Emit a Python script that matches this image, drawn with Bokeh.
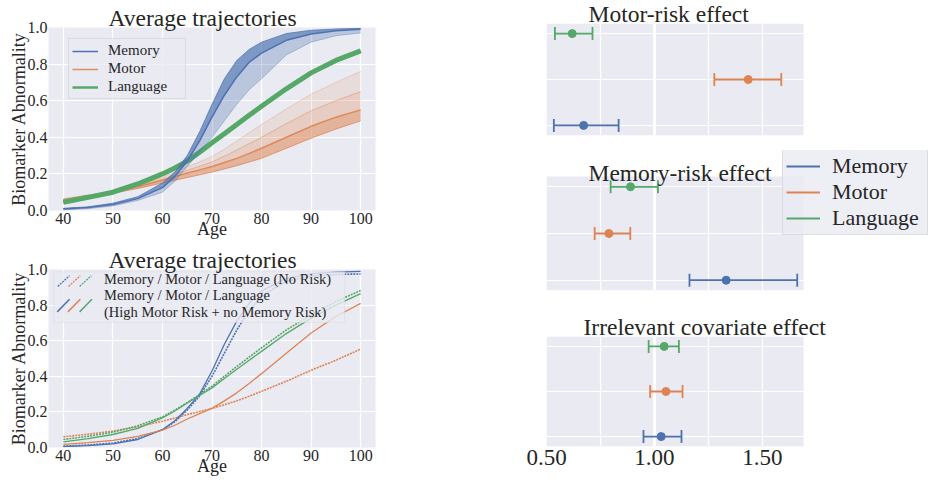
from bokeh.plotting import figure
from bokeh.models import (Legend, LegendItem, FixedTicker, PrintfTickFormatter, Span,
                          BoxAnnotation, Label, Range1d)
from bokeh.layouts import row, column
from bokeh.embed import file_html
from bokeh.resources import INLINE

# ---------------- data ----------------
AGES = [40, 45, 50, 55, 60, 62.5, 65, 67.5, 70, 72.5, 75, 77.5, 80, 85, 90, 95, 100]

# top-left: families of trajectories (upper envelope / dense middle / lower envelope)
MEM_UP = [0.012, 0.02, 0.04, 0.075, 0.15, 0.21, 0.30, 0.43, 0.58, 0.72, 0.82, 0.88, 0.92, 0.967, 0.985, 0.992, 0.996]
MEM_MID = [0.008, 0.016, 0.033, 0.065, 0.125, 0.185, 0.27, 0.38, 0.51, 0.63, 0.73, 0.81, 0.86, 0.93, 0.965, 0.982, 0.99]
MEM_LOW = [0.003, 0.01, 0.025, 0.055, 0.10, 0.16, 0.24, 0.32, 0.40, 0.49, 0.58, 0.66, 0.72, 0.85, 0.92, 0.955, 0.97]

MOT_UP = [0.065, 0.085, 0.105, 0.14, 0.18, 0.21, 0.24, 0.265, 0.295, 0.335, 0.38, 0.425, 0.47, 0.555, 0.635, 0.70, 0.76]
MOT_UPMID = [0.062, 0.083, 0.103, 0.135, 0.172, 0.195, 0.22, 0.242, 0.265, 0.297, 0.33, 0.365, 0.40, 0.475, 0.545, 0.60, 0.65]
MOT_MID = [0.058, 0.08, 0.10, 0.13, 0.165, 0.185, 0.205, 0.222, 0.24, 0.262, 0.285, 0.312, 0.34, 0.40, 0.46, 0.51, 0.55]
MOT_LOW = [0.05, 0.072, 0.094, 0.12, 0.15, 0.165, 0.18, 0.195, 0.21, 0.227, 0.245, 0.265, 0.285, 0.34, 0.395, 0.445, 0.49]

LANG = [0.045, 0.072, 0.10, 0.145, 0.20, 0.232, 0.27, 0.318, 0.37, 0.42, 0.47, 0.52, 0.57, 0.665, 0.752, 0.82, 0.872]

# bottom-left: no-risk (dotted) vs high motor risk + no memory risk (solid)
MEM_NORISK = [0.008, 0.014, 0.025, 0.05, 0.10, 0.145, 0.21, 0.29, 0.40, 0.53, 0.66, 0.77, 0.85, 0.935, 0.962, 0.972, 0.975]
MOT_NORISK = [0.06, 0.075, 0.092, 0.116, 0.148, 0.165, 0.185, 0.202, 0.22, 0.24, 0.262, 0.288, 0.316, 0.372, 0.434, 0.49, 0.553]
LANG_NORISK = [0.045, 0.063, 0.086, 0.122, 0.172, 0.21, 0.252, 0.298, 0.345, 0.40, 0.455, 0.508, 0.56, 0.66, 0.745, 0.82, 0.882]
MEM_RISK = [0.005, 0.01, 0.02, 0.045, 0.10, 0.15, 0.22, 0.30, 0.43, 0.58, 0.71, 0.81, 0.88, 0.95, 0.975, 0.985, 0.99]
MOT_RISK = [0.018, 0.027, 0.04, 0.062, 0.098, 0.125, 0.16, 0.19, 0.22, 0.262, 0.307, 0.36, 0.415, 0.53, 0.643, 0.736, 0.81]
LANG_RISK = [0.032, 0.05, 0.073, 0.107, 0.166, 0.205, 0.25, 0.292, 0.335, 0.388, 0.44, 0.49, 0.54, 0.64, 0.727, 0.80, 0.864]

# right: effects (rows bottom -> top: Memory, Motor, Language)
CATS = ["Memory", "Motor", "Language"]
MOTOR_MEAN = [0.672, 1.434, 0.619]
MOTOR_LO = [0.534, 1.277, 0.539]
MOTOR_HI = [0.834, 1.587, 0.713]
MEMR_MEAN = [1.332, 0.789, 0.889]
MEMR_LO = [1.162, 0.723, 0.797]
MEMR_HI = [1.661, 0.888, 1.016]
IRR_MEAN = [1.031, 1.053, 1.045]
IRR_LO = [0.949, 0.980, 0.973]
IRR_HI = [1.125, 1.130, 1.113]

X_TICKS_LEFT = [40, 50, 60, 70, 80, 90, 100]
Y_TICKS_LEFT = [0.0, 0.2, 0.4, 0.6, 0.8, 1.0]
X_TICKS_RIGHT = [0.5, 1.0, 1.5]
X_GRID_RIGHT = [0.5, 0.75, 1.0, 1.25, 1.5]
X_RIGHT_MIN, X_RIGHT_MAX = 0.5, 1.69
Y_RIGHT_MIN, Y_RIGHT_MAX = -0.22, 2.22

# ---------------- style ----------------
BLUE, ORANGE, GREEN = "#4C72B0", "#DD8452", "#55A868"
COLORS = [BLUE, ORANGE, GREEN]
BG = "#EAEAF2"
TXT = "#262626"
FONT = "Liberation Serif"


def base_style(p):
    p.background_fill_color = BG
    p.border_fill_color = "white"
    p.outline_line_color = None
    p.grid.grid_line_color = "white"
    p.grid.grid_line_width = 1.2
    for ax in p.axis:
        ax.axis_line_color = None
        ax.major_tick_line_color = None
        ax.minor_tick_line_color = None
        ax.major_tick_out = 0
        ax.major_tick_in = 0
        ax.minor_tick_out = 0
        ax.minor_tick_in = 0
        ax.major_label_text_font = FONT
        ax.major_label_text_color = TXT
        ax.axis_label_text_font = FONT
        ax.axis_label_text_font_style = "normal"
        ax.axis_label_text_color = TXT


def style_title(p, offset, standoff):
    t = p.title
    t.align = "left"
    t.offset = offset
    t.standoff = standoff
    t.text_font = FONT
    t.text_font_size = "23.5px"
    t.text_font_style = "normal"
    t.text_color = TXT


def left_fig(height, mb_left, mb_top, mb_bottom, mb_right):
    p = figure(width=440, height=height, x_range=Range1d(37, 103), y_range=Range1d(0, 1),
               title="Average trajectories",
               output_backend="svg", toolbar_location=None,
               min_border_left=mb_left, min_border_top=mb_top,
               min_border_bottom=mb_bottom, min_border_right=mb_right)
    base_style(p)
    style_title(p, 60, -7)
    p.xaxis.ticker = FixedTicker(ticks=X_TICKS_LEFT)
    p.yaxis.ticker = FixedTicker(ticks=Y_TICKS_LEFT)
    p.yaxis.formatter = PrintfTickFormatter(format="%.1f")
    p.xaxis.major_label_text_font_size = "16px"
    p.yaxis.major_label_text_font_size = "16px"
    p.xaxis.axis_label = "Age"
    p.yaxis.axis_label = "Biomarker Abnormality"
    p.xaxis.axis_label_text_font_size = "18px"
    p.yaxis.axis_label_text_font_size = "18px"
    p.xaxis.major_label_standoff = 2
    p.yaxis.major_label_standoff = 1
    p.xaxis.axis_label_standoff = -8
    p.yaxis.axis_label_standoff = -4
    return p


# ---------------- top-left ----------------
pa = left_fig(243, 47, 27, 33, 64)
pa.varea(x=AGES, y1=MOT_LOW, y2=MOT_UP, fill_color=ORANGE, fill_alpha=0.14)
pa.varea(x=AGES, y1=MOT_LOW, y2=MOT_UPMID, fill_color=ORANGE, fill_alpha=0.18)
pa.varea(x=AGES, y1=MOT_LOW, y2=MOT_MID, fill_color=ORANGE, fill_alpha=0.35)
pa.line(AGES, MOT_UP, line_color=ORANGE, line_alpha=0.3, line_width=1)
pa.line(AGES, MOT_UPMID, line_color=ORANGE, line_alpha=0.45, line_width=1)
r_mot = pa.line(AGES, MOT_MID, line_color=ORANGE, line_alpha=0.9, line_width=1.5)
pa.line(AGES, MOT_LOW, line_color=ORANGE, line_alpha=0.75, line_width=1)
r_lang = pa.line(AGES, LANG, line_color=GREEN, line_width=2.5)
pa.line(AGES, LANG, line_color=GREEN, line_width=5)
pa.varea(x=AGES, y1=MEM_LOW, y2=MEM_UP, fill_color=BLUE, fill_alpha=0.3)
pa.varea(x=AGES, y1=MEM_MID, y2=MEM_UP, fill_color=BLUE, fill_alpha=0.55)
pa.line(AGES, MEM_UP, line_color=BLUE, line_alpha=0.7, line_width=1)
r_mem = pa.line(AGES, MEM_MID, line_color=BLUE, line_alpha=1.0, line_width=1.5)
pa.line(AGES, MEM_LOW, line_color=BLUE, line_alpha=0.35, line_width=1)

leg_a = Legend(items=[LegendItem(label=n, renderers=[r])
                      for n, r in zip(CATS, [r_mem, r_mot, r_lang])],
               location=(20, 111))
leg_a.label_text_font = FONT
leg_a.label_text_font_size = "15px"
leg_a.label_text_color = TXT
leg_a.glyph_width = 26
leg_a.glyph_height = 16
leg_a.label_height = 16
leg_a.label_standoff = 10
leg_a.label_width = 74
leg_a.padding = 3
leg_a.spacing = 1
leg_a.margin = 0
leg_a.border_line_color = "#CCCCCC"
leg_a.background_fill_color = BG
leg_a.background_fill_alpha = 0.8
pa.add_layout(leg_a, "center")

# ---------------- bottom-left ----------------
pb = left_fig(237, 48, 26, 33, 65)
for ys, c in zip([MEM_NORISK, MOT_NORISK, LANG_NORISK], COLORS):
    pb.line(AGES, ys, line_color=c, line_width=1.6, line_dash="2 1")
for ys, c in zip([MEM_RISK, MOT_RISK, LANG_RISK], COLORS):
    pb.line(AGES, ys, line_color=c, line_width=1.3)

pb.add_layout(BoxAnnotation(left=38.07, right=96.79, bottom=0.702, top=0.987,
                            fill_color=BG, fill_alpha=0.8, line_color="#CCCCCC", line_width=1))
# legend handles (diagonal strokes)
pb.segment(x0=[38.88, 41.05, 43.28], y0=[0.905] * 3, x1=[41.25, 43.42, 45.65], y1=[0.965] * 3,
           line_color=COLORS, line_width=1.3, line_dash="2 1", level="overlay")
pb.segment(x0=[38.76, 40.90, 43.28], y0=[0.762] * 3, x1=[41.25, 43.42, 45.77], y1=[0.833] * 3,
           line_color=COLORS, line_width=1.5, level="overlay")
for txt, yy in zip(["Memory / Motor / Language (No Risk)", "Memory / Motor / Language",
                    "(High Motor Risk + no Memory Risk)"], [0.949, 0.858, 0.762]):
    pb.add_layout(Label(x=48.2, y=yy, text=txt, text_baseline="middle", text_align="left",
                        text_font=FONT, text_font_size="14.5px", text_color=TXT))


# ---------------- right panels ----------------
# frames extend to the page edge (white beyond the data area) so the legend can sit beside them
FRAME_W_DATA, FRAME_W_EXTRA = 257, 127
X_FRAME_MAX = X_RIGHT_MIN + (X_RIGHT_MAX - X_RIGHT_MIN) * (FRAME_W_DATA + FRAME_W_EXTRA) / FRAME_W_DATA


def right_fig(height, mb_top, mb_bottom, title, toff, means, los, his, show_x=False,
              extra_top_px=0, data_h_px=None):
    y_max = Y_RIGHT_MAX
    if extra_top_px:
        y_max = Y_RIGHT_MAX + (Y_RIGHT_MAX - Y_RIGHT_MIN) * extra_top_px / data_h_px
    p = figure(width=490, height=height, x_range=Range1d(X_RIGHT_MIN, X_FRAME_MAX),
               y_range=Range1d(Y_RIGHT_MIN, y_max),
               title=None if extra_top_px else title,
               output_backend="svg", toolbar_location=None,
               min_border_left=106, min_border_right=0, min_border_top=mb_top,
               min_border_bottom=mb_bottom)
    base_style(p)
    if not extra_top_px:
        style_title(p, toff, -6)
    p.background_fill_color = "white"
    p.add_layout(BoxAnnotation(left=X_RIGHT_MIN, right=X_RIGHT_MAX,
                               bottom=Y_RIGHT_MIN, top=Y_RIGHT_MAX, fill_color=BG,
                               fill_alpha=1.0, line_color=None, level="image"))
    p.xgrid.ticker = FixedTicker(ticks=X_GRID_RIGHT)
    p.ygrid.ticker = FixedTicker(ticks=[0, 1, 2])
    p.yaxis.visible = False
    p.xaxis.ticker = FixedTicker(ticks=X_TICKS_RIGHT)
    p.xaxis.formatter = PrintfTickFormatter(format="%.2f")
    p.xaxis.major_label_text_font_size = "23px"
    p.xaxis.major_label_standoff = 3
    p.xaxis.visible = show_x
    p.add_layout(Span(location=1.0, dimension="height", line_color="white", line_width=3,
                      level="underlay"))
    rows = list(range(len(CATS)))
    seg = p.segment(x0=los, y0=rows, x1=his, y1=rows, line_color=COLORS, line_width=1.8)
    p.scatter(x=los + his, y=rows + rows, marker="dash", angle=1.5708, size=13,
              line_color=COLORS + COLORS, line_width=1.8)
    p.scatter(x=means, y=rows, marker="circle", size=8, fill_color=COLORS, line_color=COLORS)
    if extra_top_px:
        # title drawn inside the (white) top strip of the frame
        p.add_layout(Label(x=X_RIGHT_MIN, y=Y_RIGHT_MAX, x_offset=toff, y_offset=4, text=title,
                           text_align="left", text_baseline="alphabetic", text_font=FONT,
                           text_font_size="23.5px", text_color=TXT))
    return p, seg


p1, _ = right_fig(150, 23, 15, "Motor-risk effect", 42, MOTOR_MEAN, MOTOR_LO, MOTOR_HI)
p2, seg2 = right_fig(163, 0, 23, "Memory-risk effect", 42, MEMR_MEAN, MEMR_LO, MEMR_HI,
                     extra_top_px=26, data_h_px=114)
p3, _ = right_fig(165, 23, 32, "Irrelevant covariate effect", 37, IRR_MEAN, IRR_LO, IRR_HI,
                  show_x=True)

leg2 = Legend(items=[LegendItem(label=n, renderers=[seg2], index=i) for i, n in enumerate(CATS)],
              location=(236, 55))
leg2.label_text_font = FONT
leg2.label_text_font_size = "22px"
leg2.label_text_color = TXT
leg2.glyph_width = 34
leg2.glyph_height = 24
leg2.label_height = 24
leg2.label_standoff = 12
leg2.label_width = 92
leg2.padding = 3
leg2.spacing = 0
leg2.margin = 0
leg2.border_line_color = "#CCCCCC"
leg2.background_fill_color = BG
leg2.background_fill_alpha = 0.8
p2.add_layout(leg2, "center")

layout = row(column(pa, pb), column(p1, p2, p3))
open("out.html", "w").write(file_html(layout, INLINE))
